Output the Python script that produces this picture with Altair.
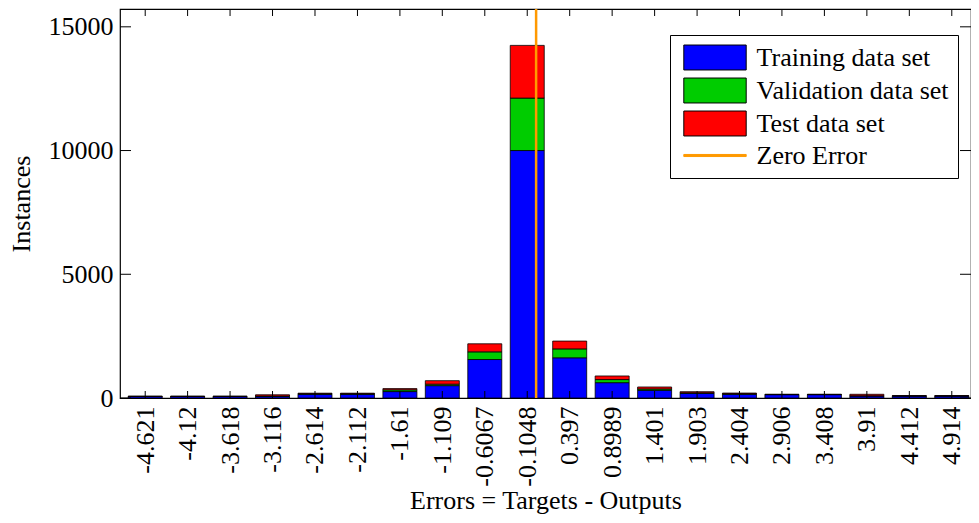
import json
import altair as alt
import pandas as pd

# ---------------- data ----------------
bin_labels = ["-4.621", "-4.12", "-3.618", "-3.116", "-2.614", "-2.112", "-1.61",
              "-1.109", "-0.6067", "-0.1048", "0.397", "0.8989", "1.401", "1.903",
              "2.404", "2.906", "3.408", "3.91", "4.412", "4.914"]
training = [60, 60, 60, 70, 150, 150, 260, 500, 1555, 10000, 1625, 620, 310, 190,
            150, 135, 135, 80, 80, 80]
validation = [5, 5, 5, 10, 20, 20, 70, 60, 310, 2120, 360, 125, 55, 20,
              25, 8, 8, 10, 5, 5]
test = [10, 10, 10, 50, 25, 25, 50, 140, 325, 2130, 315, 145, 80, 45,
        25, 7, 7, 60, 10, 10]
series_names = ["Training data set", "Validation data set", "Test data set", "Zero Error"]
series_colors = ["#0000FF", "#00CC00", "#FF0000", "#FF9900"]
zero_error = [0.0]
y_ticks = [0, 5000, 10000, 15000]

# ---------------- layout / style ----------------
W, H = 851, 389
FONT = "Liberation Serif"
FS = 26

centers = [float(s) for s in bin_labels]

rows = []
for c, tr, va, te in zip(centers, training, validation, test):
    rows.append({"center": c, "series": series_names[0], "count": tr, "ord": 0})
    rows.append({"center": c, "series": series_names[1], "count": va, "ord": 1})
    rows.append({"center": c, "series": series_names[2], "count": te, "ord": 2})
bars_df = pd.DataFrame(rows)
centers_df = pd.DataFrame({"center": centers})
zero_df = pd.DataFrame({"center": zero_error})
yt_df = pd.DataFrame({"count": y_ticks})
legend_df = pd.DataFrame({"series": series_names})

x_scale = alt.Scale(domain=[-4.86, 5.082], nice=False, zero=False)
y_scale = alt.Scale(domain=[0, 15720], nice=False, zero=True)

label_expr = "%s[indexof(%s, datum.value)]" % (json.dumps(bin_labels), json.dumps(centers))

x_axis = alt.Axis(
    values=centers, labelExpr=label_expr, labelAngle=270, labelAlign="right",
    labelBaseline="middle", labelPadding=8, labelFlush=False, labelOverlap=False,
    labelFont=FONT, labelFontSize=FS, labelColor="black",
    ticks=False, domain=False, grid=False,
    title="Errors = Targets - Outputs", titleFont=FONT, titleFontSize=FS,
    titleFontWeight="normal", titleColor="black", titleY=110, titleBaseline="alphabetic",
)
y_axis = alt.Axis(
    values=y_ticks, format="d", labelFont=FONT, labelFontSize=FS, labelColor="black",
    labelPadding=7, ticks=False, domain=False, grid=False,
    title="Instances", titleFont=FONT, titleFontSize=FS, titleFontWeight="normal",
    titleColor="black", titleX=-99, titleBaseline="middle",
)

fill_scale = alt.Scale(domain=series_names, range=series_colors)
stroke_scale = alt.Scale(domain=series_names, range=["black", "black", "black", "#FF9900"])
rect_path = "M-2.4,-0.96H2.4V0.96H-2.4Z"
line_path = "M-2.4,-0.08H2.4V0.08H-2.4Z"
shape_scale = alt.Scale(domain=series_names, range=[rect_path, rect_path, rect_path, line_path])

leg = alt.Legend(
    title=None, orient="none", legendX=550, legendY=26,
    symbolSize=676, symbolStrokeWidth=1, symbolOffset=22.5,
    labelFont=FONT, labelFontSize=FS, labelColor="black", labelOffset=28, labelLimit=400,
    padding=9, rowPadding=4, strokeColor="black", fillColor="white",
)

X = alt.X("center:Q", scale=x_scale, axis=x_axis)
Y = alt.Y("count:Q", scale=y_scale, axis=y_axis)

bars = alt.Chart(bars_df).mark_bar(width=34, stroke="black", strokeWidth=0.8, clip=True).encode(
    x=X,
    y=alt.Y("count:Q", stack="zero", scale=y_scale, axis=y_axis),
    fill=alt.Fill("series:N", scale=fill_scale, legend=leg),
    order=alt.Order("ord:Q"),
)

bottom_ticks = alt.Chart(centers_df).mark_rule(color="black", strokeWidth=1).encode(
    x=X, y=alt.value(H - 7), y2=alt.value(H),
)
top_ticks = alt.Chart(centers_df).mark_rule(color="black", strokeWidth=1).encode(
    x=X, y=alt.value(0), y2=alt.value(7),
)
left_ticks = alt.Chart(yt_df).mark_rule(color="black", strokeWidth=1).encode(
    y=Y, x=alt.value(0), x2=alt.value(11),
)
right_ticks = alt.Chart(yt_df).mark_rule(color="black", strokeWidth=1).encode(
    y=Y, x=alt.value(W - 11), x2=alt.value(W),
)

zero_line = alt.Chart(zero_df).mark_rule(color="#FF9900", strokeWidth=2.5).encode(
    x=X, y=alt.value(0), y2=alt.value(H),
)

legend_layer = alt.Chart(legend_df).transform_filter("false").mark_point(
    filled=True, opacity=1
).encode(
    fill=alt.Fill("series:N", scale=fill_scale, legend=leg),
    stroke=alt.Stroke("series:N", scale=stroke_scale, legend=leg),
    shape=alt.Shape("series:N", scale=shape_scale, legend=leg),
)

chart = alt.layer(
    bars, bottom_ticks, zero_line, top_ticks, left_ticks, right_ticks, legend_layer
).properties(
    width=W, height=H,
    autosize=alt.AutoSizeParams(type="none"),
    padding={"left": 112, "top": 1, "right": 0, "bottom": 117},
    background="white",
).configure(font=FONT).configure_view(stroke="black", strokeWidth=1.2)

chart.save("out.html", embed_options={"renderer": "svg", "actions": False})
